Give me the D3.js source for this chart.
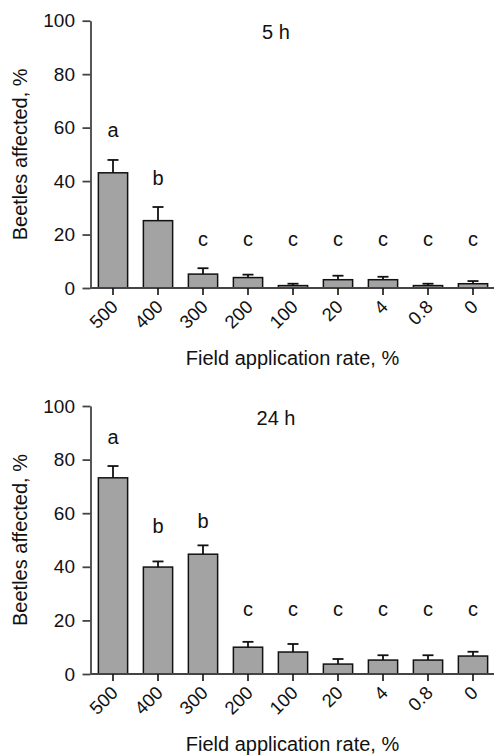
<!DOCTYPE html>
<html lang="en">
<head>
<meta charset="UTF-8">
<title>Beetles affected</title>
<script src="https://d3js.org/d3.v7.min.js"></script>
<style>
  body { margin: 0; background: #fff; }
  svg text { font-family: "Liberation Sans", Arial, Helvetica, sans-serif; fill: #111; }
</style>
</head>
<body>
<div id="chart"></div>
<script>
// categories (field application rate, %)
const rates = ["500", "400", "300", "200", "100", "20", "4", "0.8", "0"];
const yTicks = [0, 20, 40, 60, 80, 100];

// 5 h panel
const mean5 = [43.1, 25.2, 5.2, 3.9, 0.9, 3.1, 3.1, 0.9, 1.6];
const err5 = [4.8, 5.1, 2.2, 1.1, 0.7, 1.5, 1.1, 0.7, 1.0];
const letters5 = ["a", "b", "c", "c", "c", "c", "c", "c", "c"];
const letterAt5 = [56.4, 38.4, 15.7, 15.7, 15.7, 15.7, 15.7, 15.7, 15.7];

// 24 h panel
const mean24 = [73.2, 39.9, 44.7, 10.0, 8.2, 3.7, 5.2, 5.2, 6.7];
const err24 = [4.4, 2.1, 3.3, 2.0, 3.0, 1.9, 1.8, 1.8, 1.6];
const letters24 = ["a", "b", "b", "c", "c", "c", "c", "c", "c"];
const letterAt24 = [85.8, 52.5, 54.4, 21.6, 21.6, 21.6, 21.6, 21.6, 21.6];

const W = 494, H = 755;
const svg = d3.select("#chart").append("svg")
    .attr("width", W)
    .attr("height", H);

const x = d3.scaleBand()
    .domain(rates)
    .range([90.5, 495.5])
    .paddingInner(0.35)
    .paddingOuter(0.175);

function panel(title, means, errs, letters, letterAt, top, bottom) {
    const y = d3.scaleLinear().domain([0, 100]).range([bottom, top]);
    const g = svg.append("g");

    // bars
    g.selectAll(".bar")
        .data(means)
        .enter().append("rect")
        .attr("x", (d, i) => x(rates[i]))
        .attr("y", d => y(d))
        .attr("width", x.bandwidth())
        .attr("height", d => y(0) - y(d))
        .attr("fill", "#a3a3a3")
        .attr("stroke", "#111")
        .attr("stroke-width", 1.5);

    // error bars (upper only)
    const eb = g.selectAll(".err")
        .data(means)
        .enter().append("g")
        .attr("stroke", "#111")
        .attr("stroke-width", 1.8);
    eb.append("line")
        .attr("x1", (d, i) => x(rates[i]) + x.bandwidth() / 2)
        .attr("x2", (d, i) => x(rates[i]) + x.bandwidth() / 2)
        .attr("y1", d => y(d))
        .attr("y2", (d, i) => y(d + errs[i]));
    eb.append("line")
        .attr("x1", (d, i) => x(rates[i]) + x.bandwidth() / 2 - 5.5)
        .attr("x2", (d, i) => x(rates[i]) + x.bandwidth() / 2 + 5.5)
        .attr("y1", (d, i) => y(d + errs[i]))
        .attr("y2", (d, i) => y(d + errs[i]));

    // significance letters
    g.selectAll(".letter")
        .data(letters)
        .enter().append("text")
        .attr("x", (d, i) => x(rates[i]) + x.bandwidth() / 2)
        .attr("y", (d, i) => y(letterAt[i]))
        .attr("text-anchor", "middle")
        .attr("font-size", 20)
        .text(d => d);

    // y axis
    const ya = g.append("g")
        .attr("transform", `translate(${x.range()[0]},0)`)
        .call(d3.axisLeft(y).tickValues(yTicks).tickSize(8).tickSizeOuter(0).tickPadding(7.5));
    ya.select(".domain").attr("stroke", "#444").attr("stroke-width", 1.8);
    ya.selectAll(".tick line").attr("stroke", "#444").attr("stroke-width", 1.8);
    ya.selectAll(".tick text").attr("font-size", 19).attr("fill", "#111")
        .attr("font-family", "Liberation Sans, Arial, sans-serif");

    // x axis
    const xa = g.append("g")
        .attr("transform", `translate(0,${bottom})`)
        .call(d3.axisBottom(x).tickSize(7).tickSizeOuter(0).tickPadding(0));
    xa.select(".domain").attr("stroke", "#444").attr("stroke-width", 1.8)
        .attr("d", `M${x.range()[0]},0H${W}`);
    xa.selectAll(".tick line").attr("stroke", "#111").attr("stroke-width", 1.6);
    xa.selectAll(".tick text")
        .attr("font-size", 18.5)
        .attr("fill", "#111")
        .attr("font-family", "Liberation Sans, Arial, sans-serif")
        .attr("text-anchor", "end")
        .attr("y", 0)
        .attr("dy", null)
        .attr("transform", "translate(6,20) rotate(-45)");

    // panel title
    g.append("text")
        .attr("x", 276)
        .attr("y", top + 18.5)
        .attr("text-anchor", "middle")
        .attr("font-size", 20)
        .text(title);

    // axis titles
    g.append("text")
        .attr("transform", `translate(27,${(top + bottom) / 2}) rotate(-90)`)
        .attr("text-anchor", "middle")
        .attr("font-size", 20)
        .text("Beetles affected, %");
    g.append("text")
        .attr("x", 292.5)
        .attr("y", bottom + 77)
        .attr("text-anchor", "middle")
        .attr("font-size", 20)
        .text("Field application rate, %");
}

panel("5 h", mean5, err5, letters5, letterAt5, 20.7, 288);
panel("24 h", mean24, err24, letters24, letterAt24, 406, 674);
</script>
</body>
</html>
